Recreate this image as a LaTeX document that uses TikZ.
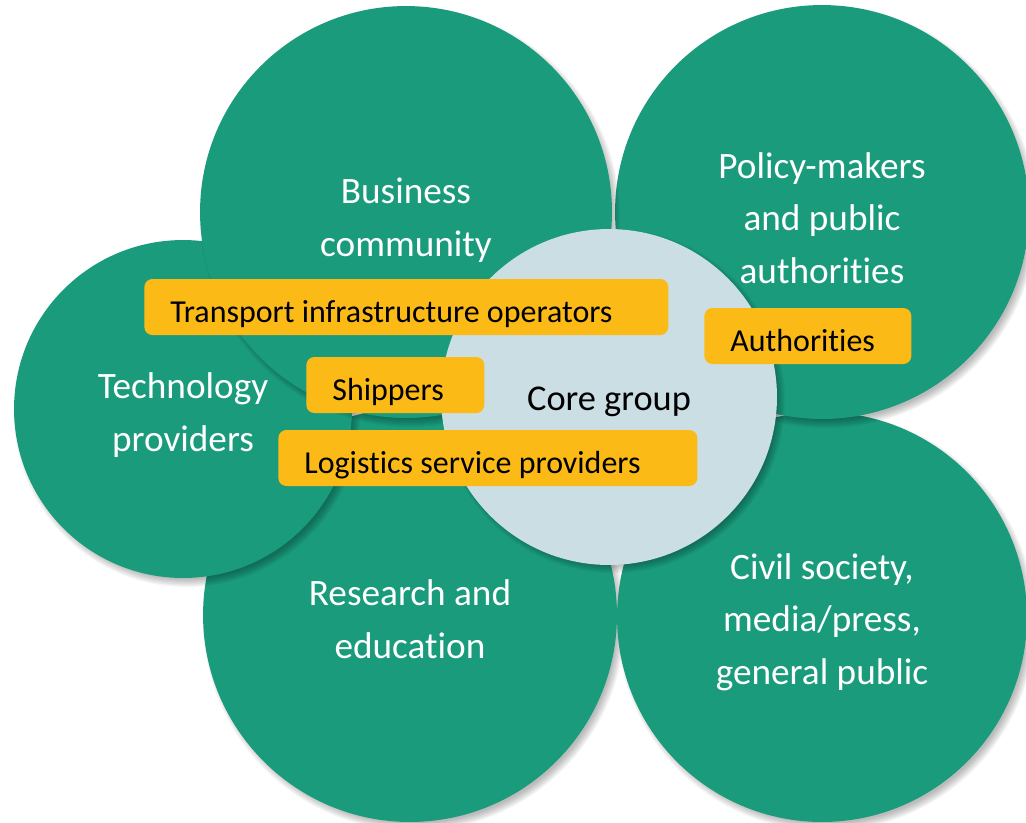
\documentclass[tikz,border=0pt]{standalone}
\usepackage{fontspec}
\setmainfont{Carlito}[Ligatures=NoCommon]
\definecolor{cgreen}{RGB}{26,155,124}
\definecolor{ccore}{RGB}{203,222,228}
\definecolor{corange}{RGB}{251,186,22}
\newcommand\circshadow[3]{%
  \foreach \k in {0,...,6}{%
    \fill[black,opacity=0.045] ({#1+4},{#2+5}) circle ({#3+4-\k*1.3});
  }%
}
\tikzset{
  gcirc/.style={circle,fill=cgreen,inner sep=0pt},
  corecirc/.style={circle,fill=ccore,inner sep=0pt},
  gtext/.style={text=white,align=center,inner sep=0pt,
    font=\fontsize{21.2pt}{30pt}\selectfont},
  ctext/.style={text=black,align=center,inner sep=0pt,
    font=\fontsize{20.7pt}{30pt}\selectfont},
  obox/.style={rectangle,rounded corners=0.16cm,fill=corange,text=black,
    anchor=west,inner xsep=0.52cm,inner ysep=0pt,minimum height=1.12cm,
    text height=18.1pt,text depth=0pt,
    font=\fontsize{18.2pt}{21pt}\selectfont}
}
\begin{document}
\begin{tikzpicture}[x=0.02cm,y=-0.02cm]
\useasboundingbox (0,0) rectangle (1026,822);
\clip (0,0) rectangle (1026,822);
% research
\circshadow{410}{615}{207}
\node[gcirc,minimum size=8.28cm] (res) at (410,615) {};
\node[gtext] (res-t) at (410,619) {Research and\\education};
% civil
\circshadow{822}{617}{205}
\node[gcirc,minimum size=8.2cm] (civ) at (822,617) {};
\node[gtext] (civ-t) at (822,622) {Civil society,\\media/press,\\general public};
% policy
\circshadow{822}{212}{207}
\node[gcirc,minimum size=8.28cm] (pol) at (822,212) {};
\node[gtext] (pol-t) at (822,218) {Policy-makers\\and public\\authorities};
% technology
\circshadow{183}{409}{169}
\node[gcirc,minimum size=6.76cm] (tec) at (183,409) {};
\node[gtext] (tec-t) at (183,415) {Technology\\providers};
% business
\circshadow{406}{212}{206}
\node[gcirc,minimum size=8.24cm] (biz) at (406,212) {};
\node[gtext] (biz-t) at (406,220) {Business\\community};
% core
\circshadow{609}{396}{168}
\node[corecirc,minimum size=6.72cm] (core) at (609,397) {};
\node[ctext] (core-t) at (609,402) {Core group};
% boxes
\node[obox] (tio) at (144,307) {\makebox[9.44cm][l]{Transport infrastructure operators}};
\node[obox] (aut) at (704,336) {\makebox[3.1cm][l]{Authorities}};
\node[obox] (shi) at (306,385) {\makebox[2.52cm][l]{Shippers}};
\node[obox] (lsp) at (278,458) {\makebox[7.34cm][l]{Logistics service providers}};
\end{tikzpicture}
\end{document}
